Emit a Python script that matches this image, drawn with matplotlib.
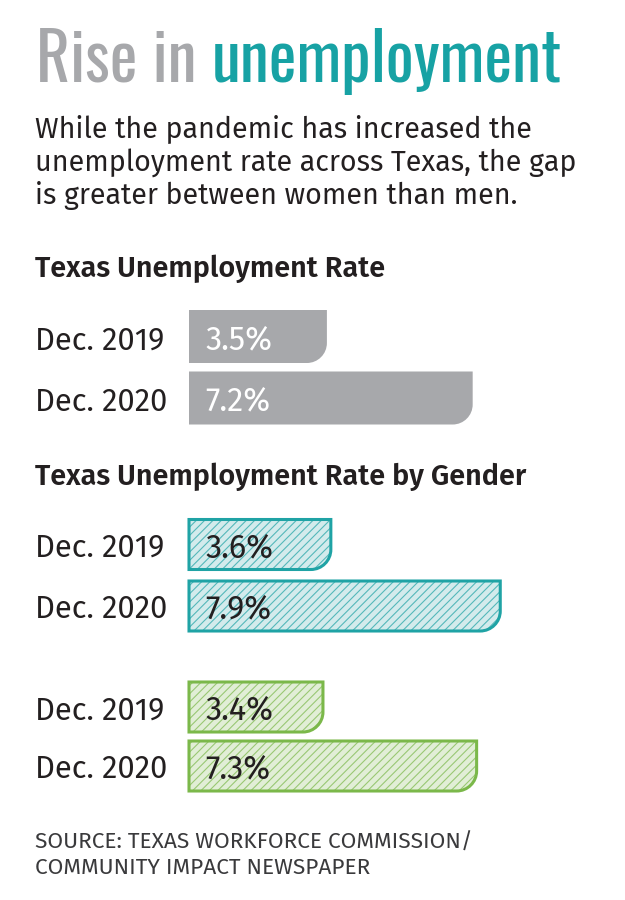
import matplotlib
matplotlib.use("Agg")
import matplotlib.pyplot as plt
from matplotlib.path import Path
from matplotlib.patches import PathPatch

# data
periods = ["Dec. 2019", "Dec. 2020"]
overall_rate = [3.5, 7.2]
women_rate = [3.6, 7.9]
men_rate = [3.4, 7.3]

title_grey = "Rise in "
title_teal = "unemployment"
subtitle = ["While the pandemic has increased the",
            "unemployment rate across Texas, the gap",
            "is greater between women than men."]
header_1 = "Texas Unemployment Rate"
header_2 = "Texas Unemployment Rate by Gender"
source = ["SOURCE: TEXAS WORKFORCE COMMISSION/", "COMMUNITY IMPACT NEWSPAPER"]

W, H = 625, 900
X0 = 189          # pixel where the bars start
PX_PER_UNIT = 39.4

GREY = "#a7a8ab"
TEAL = "#17a2a4"
TEAL_EDGE = "#1fa3a5"
TEAL_FILL = "#d3ebec"
GREEN_EDGE = "#7bb84a"
GREEN_FILL = "#e1eed6"
TEXT = "#231f20"

TITLE_FONT = ["Oswald", "Roboto Condensed", "DejaVu Sans"]
BODY = ["Fira Sans", "Noto Sans", "DejaVu Sans"]
plt.rcParams["hatch.linewidth"] = 0.8

fig = plt.figure(figsize=(W / 100, H / 100), dpi=100)
fig.patch.set_facecolor("white")
renderer = fig.canvas.get_renderer()

ax = fig.add_axes([0, 0, 1, 1])
ax.set_xlim(-X0 / PX_PER_UNIT, (W - X0) / PX_PER_UNIT)
ax.set_ylim(H, 0)
ax.axis("off")


def rounded_bar(y, value, height, r_px=20, **kw):
    # bar from 0 to value, rounded bottom-right corner
    rx = r_px / PX_PER_UNIT
    ry = r_px
    top, bot = y - height / 2, y + height / 2
    k = 0.5523
    verts = [(0, top), (value, top), (value, bot - ry),
             (value, bot - ry + k * ry), (value - rx + k * rx, bot), (value - rx, bot),
             (0, bot), (0, top)]
    codes = [Path.MOVETO, Path.LINETO, Path.LINETO,
             Path.CURVE4, Path.CURVE4, Path.CURVE4,
             Path.LINETO, Path.CLOSEPOLY]
    p = PathPatch(Path(verts, codes), **kw)
    ax.add_patch(p)
    return p


def px_text(x, y, s, **kw):
    kw.setdefault("va", "baseline")
    return fig.text(x / W, 1 - y / H, s, **kw)


def fit_size(s, width_px, **kw):
    # font size that makes s about width_px wide
    t = fig.text(0, 0, s, fontsize=20, **kw)
    w = t.get_window_extent(renderer).width
    t.remove()
    return 20 * width_px / w


# title, two colours on one baseline
ts = fit_size(title_grey + title_teal, 527, family=TITLE_FONT, weight="light")
t1 = px_text(36, 82, title_grey, fontsize=ts, color=GREY, family=TITLE_FONT, weight="light")
x1 = t1.get_window_extent(renderer).x1
px_text(x1, 82, title_teal, fontsize=ts, color=TEAL, family=TITLE_FONT, weight="light")

ss = fit_size(subtitle[1], 541, family=BODY)
for i, line in enumerate(subtitle):
    px_text(35, 137 + i * 33.5, line, fontsize=ss, color=TEXT, family=BODY)

hs = fit_size(header_2, 490, family=BODY, weight="semibold")
px_text(35, 277, header_1, fontsize=hs, color=TEXT, family=BODY, weight="semibold")
px_text(35, 485, header_2, fontsize=hs, color=TEXT, family=BODY, weight="semibold")

ls = fit_size(periods[0], 129, family=BODY)
vs = fit_size("3.5%", 67, family=BODY)

# grey bars
grey_y = [336.5, 398]
for y, v, lab in zip(grey_y, overall_rate, periods):
    rounded_bar(y, v, 53, facecolor=GREY, edgecolor="none")
    px_text(35, y + 13, lab, fontsize=ls, color=TEXT, family=BODY)
    ax.text(16 / PX_PER_UNIT, y + 12.5, f"{v}%", fontsize=vs, color="white",
            family=BODY, va="baseline")

# hatched gender bars
groups = [([544.5, 606], women_rate, TEAL_EDGE, TEAL_FILL),
          ([707, 766], men_rate, GREEN_EDGE, GREEN_FILL)]
for ys, vals, edge, fill in groups:
    for y, v, lab in zip(ys, vals, periods):
        rounded_bar(y, v, 50, facecolor=fill, edgecolor="none")
        rounded_bar(y, v, 50, facecolor="none", edgecolor=edge, hatch="////",
                    linewidth=0, alpha=0.7)
        rounded_bar(y, v, 50, facecolor="none", edgecolor=edge, linewidth=2.2)
        px_text(35, y + 12.5, lab, fontsize=ls, color=TEXT, family=BODY)
        ax.text(16 / PX_PER_UNIT, y + 12.5, f"{v}%", fontsize=vs, color=TEXT,
                family=BODY, va="baseline")

srs = fit_size(source[0], 438, family=BODY)
for i, line in enumerate(source):
    px_text(35, 849 + i * 25, line, fontsize=srs, color="#3a3a3c", family=BODY)

fig.savefig("out.png", dpi=100, facecolor="white")
